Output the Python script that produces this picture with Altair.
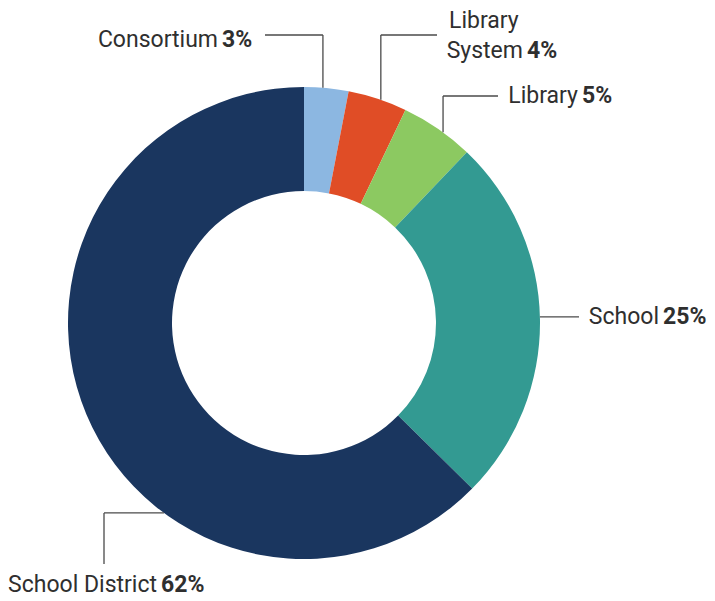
import math
import altair as alt
import pandas as pd

# ---- data ----
categories = ["Consortium", "Library System", "Library", "School", "School District"]
shares = [3, 4, 5, 25, 62]
colors = ["#8cb7e1", "#e04d26", "#8cc961", "#339a92", "#1a365f"]

# ---- layout ----
W, H = 715, 601
CX, CY = 304, 323
R_OUT, R_IN = 236, 132
FONT = "Roboto"
FS = 23
TEXT_COLOR = "#2f2f2f"
LINE_COLOR = "#4a4a4a"

# leader: angle (deg, clockwise from top) of anchor on outer edge, then elbow moves
leaders = {
    "Consortium": (4.6, [("v", 35), ("h", 265)]),
    "Library System": (19.0, [("v", 35), ("h", 437)]),
    "Library": (36.1, [("v", 96), ("h", 498)]),
    "School": (88.5, [("h", 579)]),
    "School District": (216.4, [("h", 104), ("v", 564)]),
}
# label: split x between name and pct, baseline y, optional first-line (x, baseline)
label_pos = {
    "Consortium": (218, 47, None),
    "Library System": (523, 58, (449, 28)),
    "Library": (578, 103, None),
    "School": (659, 324, None),
    "School District": (157, 592, None),
}
GAP = 4

seg_rows = []
for cat in categories:
    ang, moves = leaders[cat]
    a = math.radians(ang)
    x0, y0 = CX + R_OUT * math.sin(a), CY - R_OUT * math.cos(a)
    for kind, v in moves:
        x1, y1 = (x0, v) if kind == "v" else (v, y0)
        seg_rows.append({"cat": cat, "x": x0, "y": y0, "x2": x1, "y2": y1})
        x0, y0 = x1, y1
segs = pd.DataFrame(seg_rows)

name_right, name_left, pct_rows = [], [], []
for cat, val in zip(categories, shares):
    sx, by, first = label_pos[cat]
    if first is not None:
        l1, l2 = cat.rsplit(" ", 1)
        name_left.append({"t": l1, "x": first[0], "y": first[1]})
        name_right.append({"t": l2, "x": sx, "y": by})
    else:
        name_right.append({"t": cat, "x": sx, "y": by})
    pct_rows.append({"t": f"{val}%", "x": sx + GAP, "y": by})

pie_df = pd.DataFrame({"cat": categories, "share": shares, "idx": list(range(len(categories)))})

xs = alt.Scale(domain=[0, W])
ys = alt.Scale(domain=[0, H], reverse=True)

arcs = alt.Chart(pie_df).mark_arc(outerRadius=R_OUT, innerRadius=R_IN).encode(
    theta=alt.Theta("share:Q", stack=True),
    color=alt.Color("cat:N", scale=alt.Scale(domain=categories, range=colors), legend=None),
    order=alt.Order("idx:Q"),
    x=alt.value(CX),
    y=alt.value(CY),
)

rules = alt.Chart(segs).mark_rule(color=LINE_COLOR, strokeWidth=1.3).encode(
    x=alt.X("x:Q", scale=xs, axis=None),
    y=alt.Y("y:Q", scale=ys, axis=None),
    x2="x2:Q",
    y2="y2:Q",
)


def text_layer(rows, align, weight):
    return alt.Chart(pd.DataFrame(rows)).mark_text(
        align=align, baseline="alphabetic", font=FONT, fontSize=FS,
        fontWeight=weight, color=TEXT_COLOR,
    ).encode(
        x=alt.X("x:Q", scale=xs, axis=None),
        y=alt.Y("y:Q", scale=ys, axis=None),
        text="t:N",
    )


chart = alt.layer(
    arcs,
    rules,
    text_layer(name_right, "right", "normal"),
    text_layer(name_left, "left", "normal"),
    text_layer(pct_rows, "left", "bold"),
).properties(
    width=W, height=H, padding=0, autosize=alt.AutoSizeParams(type="none"),
    background="white",
).configure_view(stroke=None)

chart.save("out.html", embed_options={"renderer": "svg", "actions": False})
